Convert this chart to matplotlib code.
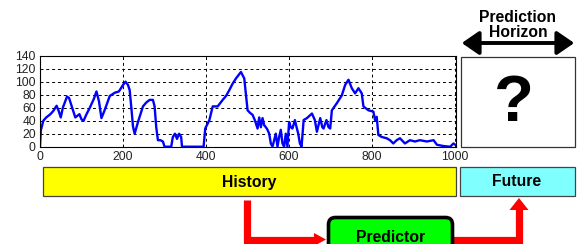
import matplotlib
matplotlib.use("Agg")
import matplotlib.pyplot as plt
from matplotlib.patches import Rectangle, FancyBboxPatch, FancyArrow, FancyArrowPatch

plt.rcParams["font.family"] = ["Liberation Sans", "DejaVu Sans"]

# --- signal ---------------------------------------------------------------
t_vals = [0, 2, 8, 15, 25, 32, 40, 45, 50, 55, 65, 70, 75, 85, 95, 100, 105,
          112, 120, 130, 136, 142, 148, 155, 168, 180, 190, 200, 206, 212, 216,
          220, 224, 228, 236, 248, 256, 264, 272, 276, 280, 284, 290, 296, 300,
          316, 320, 325, 330, 335, 340, 342, 394, 398, 408, 416, 428, 435, 440,
          448, 456, 464, 472, 484, 492, 500, 506, 512, 518, 524, 528, 532, 536,
          540, 544, 548, 552, 556, 560, 564, 568, 572, 576, 580, 584, 588, 592,
          596, 600, 604, 608, 614, 618, 622, 626, 630, 635, 643, 650, 655, 662,
          667, 675, 680, 683, 690, 695, 699, 703, 715, 727, 735, 743, 751, 759,
          767, 775, 779, 791, 803, 807, 811, 815, 823, 835, 843, 851, 859, 867,
          879, 891, 903, 915, 932, 948, 956, 972, 988, 996, 1000]
sig_vals = [0, 25, 40, 45, 50, 55, 63, 55, 45, 60, 77, 75, 65, 45, 50, 42, 40,
            50, 60, 74, 85, 70, 44, 55, 78, 83, 85, 95, 100, 95, 87,
            60, 31, 20, 38, 62, 68, 72, 72, 62, 30, 10, 10, 8, 0,
            0, 15, 20, 12, 20, 15, 0, 0, 28, 41, 62, 62, 68, 72,
            78, 87, 97, 105, 115, 105, 56, 52, 49, 40, 28, 45, 30, 44,
            33, 30, 26, 20, 5, 0, 10, 20, 0, 15, 26, 5, 0, 20,
            0, 38, 30, 28, 41, 30, 20, 5, 0, 41, 44, 48, 51, 41,
            23, 44, 30, 28, 41, 30, 28, 56, 67, 79, 95, 103, 90, 82,
            90, 82, 62, 56, 54, 41, 46, 18, 15, 13, 10, 5, 10, 13,
            5, 10, 8, 10, 8, 10, 3, 1, 0, 5, 3]

x_ticks = [0, 200, 400, 600, 800, 1000]
y_ticks = [0, 20, 40, 60, 80, 100, 120, 140]

W, H = 579, 244
fig = plt.figure(figsize=(W / 100, H / 100), dpi=100)


def frac(x0, y0, x1, y1):
    """pixel box (top-left origin) -> figure fraction [l, b, w, h]"""
    return [x0 / W, 1 - y1 / H, (x1 - x0) / W, (y1 - y0) / H]


# --- history plot ----------------------------------------------------------
ax = fig.add_axes(frac(40, 55.7, 456, 146.7))
ax.plot(t_vals, sig_vals, color="#0000ff", lw=1.7)
ax.set_xlim(0, 1002)
ax.set_ylim(0, 140)
ax.set_xticks(x_ticks)
ax.set_yticks(y_ticks)
ax.tick_params(length=0, labelsize=8.7, pad=3, labelcolor="#222222")
ax.grid(True, color="black", ls=(0, (3, 3)), lw=0.7)
for s in ax.spines.values():
    s.set_linewidth(0.8)

# --- overlay in pixel coordinates -----------------------------------------
ov = fig.add_axes([0, 0, 1, 1], zorder=-1)
ov.set_xlim(0, W)
ov.set_ylim(H, 0)
ov.axis("off")

# unknown future panel
ov.add_patch(Rectangle((461, 57), 114, 90, fc="white", ec="#333333", lw=0.9))
ov.text(514, 104, "?", fontsize=47, fontweight="bold", ha="center", va="center")

ov.text(518, 25, "Prediction\nHorizon", fontsize=11.3, fontweight="bold",
        ha="center", va="center", linespacing=1.0)
ov.add_patch(FancyArrowPatch((459, 43), (577, 43),
                             arrowstyle="<|-|>,head_length=8,head_width=5.5",
                             color="black", lw=2.8, mutation_scale=1.3))

# history / future bars
ov.add_patch(Rectangle((42.5, 166.5), 413, 29.5, fc="#ffff00", ec="#444444", lw=0.9))
ov.text(249, 182, "History", fontsize=11.3, fontweight="bold", ha="center", va="center")
ov.add_patch(Rectangle((459.5, 166.5), 115.5, 29.5, fc="#80ffff", ec="#444444", lw=0.9))
ov.text(517, 182, "Future", fontsize=11.3, fontweight="bold", ha="center", va="center")

# red flow arrows
red = "#ff0000"
ov.plot([247, 247, 316], [200, 239.5, 239.5], color=red, lw=5.2, solid_joinstyle="miter",
        solid_capstyle="butt")
ov.add_patch(FancyArrow(314, 239.5, 12, 0, width=0.1, head_width=13, head_length=12,
                        length_includes_head=True, color=red, lw=0))
ov.plot([452, 519, 519], [239.5, 239.5, 208], color=red, lw=5.2, solid_joinstyle="miter",
        solid_capstyle="butt")
ov.add_patch(FancyArrow(519, 211, 0, -13, width=0.1, head_width=19, head_length=12,
                        length_includes_head=True, color=red, lw=0))

# predictor block (cut by the frame bottom)
ov.add_patch(FancyBboxPatch((328.5, 217.5), 124, 40, boxstyle="round,pad=0,rounding_size=7",
                            fc="#00ff00", ec="black", lw=2.6, zorder=3))
ov.text(391, 237, "Predictor", fontsize=11.3, fontweight="bold", ha="center", va="center",
        zorder=4)

fig.savefig("out.png", dpi=100)
